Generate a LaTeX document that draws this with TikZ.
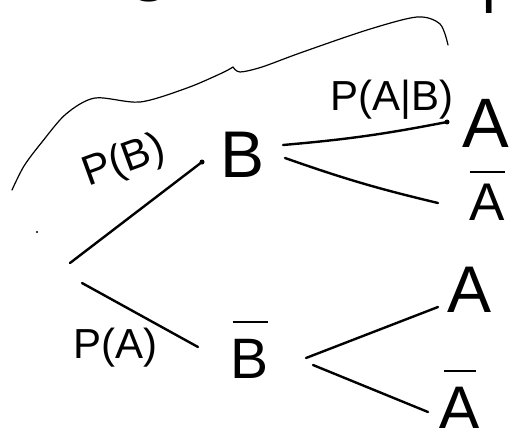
\documentclass[tikz,border=0pt]{standalone}
\usepackage{fontspec}
\setmainfont{Liberation Sans}
\usetikzlibrary{calc}
\newcommand\ovlbar[4]{\begin{tabular}[b]{@{}c@{}}\rule{#1}{2pt}\\[#2]#3\end{tabular}}
\tikzset{
  lett/.style={inner sep=0pt, anchor=base},
  lab/.style={inner sep=0pt, font=\fontsize{42}{42}\selectfont},
  branch/.style={line width=2.4pt, line cap=round},
  bracestroke/.style={line width=1.2pt, line cap=round, line join=round},
  tip/.style={circle, fill, inner sep=0pt, minimum size=5pt}
}
\begin{document}
\begin{tikzpicture}[x=1pt,y=-1pt]
\useasboundingbox (0,0) rectangle (512,428);
\begin{scope}
\clip (0,0) rectangle (512,428);
% partially visible heading
\node[lett, anchor=base east, font=\fontsize{80}{80}\selectfont] (head) at (332,-14) {diagram:};
\node[lett, anchor=base west, font=\fontsize{60}{60}\selectfont] (headP) at (481,14) {P};

% letters
\node[lett, font=\fontsize{66}{66}\selectfont] (B) at (243,177) {B};
\node[lett, font=\fontsize{70}{70}\selectfont] (A1) at (486,147) {A};
\node[lett, font=\fontsize{53}{53}\selectfont] (Ab1) at (487,220) {\ovlbar{35pt}{-6pt}{A}{}};
\node[lett, font=\fontsize{57}{57}\selectfont] (Bb) at (250,378) {\ovlbar{35pt}{-2pt}{B}{}};
\node[lett, font=\fontsize{66}{66}\selectfont] (A2) at (470,312) {A};
\node[lett, font=\fontsize{63}{63}\selectfont] (Ab2) at (460,430) {\ovlbar{32pt}{-5pt}{A}{}};

% labels
\node[lab, rotate=20] (PB) at (124,162) {P(B)};
\node[lab] (PAB) at (392,100) {P(A|B)};
\node[lab] (PA) at (115,348) {P(A)};

% branches
\coordinate (r1) at (70,263);
\coordinate (r2) at (82,283);
\node[tip] (d1) at (202,162) {};
\node[tip] (d2) at (447,122) {};
\draw[branch] (r1) -- (d1.center);
\draw[branch] ($(B.base)+(40,-32)$) to[bend right=3] (d2.center);
\draw[branch] ($(B.base)+(42,-19)$) to[bend right=3] ($(Ab1.base)+(-49,-17)$);
\draw[branch] (r2) -- ($(Bb.base)+(-52,-31)$);
\draw[branch] ($(Bb.base)+(56,-20)$) -- ($(A2.base)+(-32,-5)$);
\draw[branch] ($(Bb.base)+(63,-13)$) -- ($(Ab2.base)+(-32,-18)$);

% brace
\draw[bracestroke] plot[smooth] coordinates {(12,190) (24,166) (42,142) (66,114) (95,98) (140,102) (187,88) (222,73) (233,67)};
\draw[bracestroke] plot[smooth] coordinates {(233,67) (240,72) (262,67) (300,53) (367,30) (417,17) (440,24) (448,45)};
\fill (37,232) circle (1.2);
\end{scope}
\end{tikzpicture}
\end{document}
